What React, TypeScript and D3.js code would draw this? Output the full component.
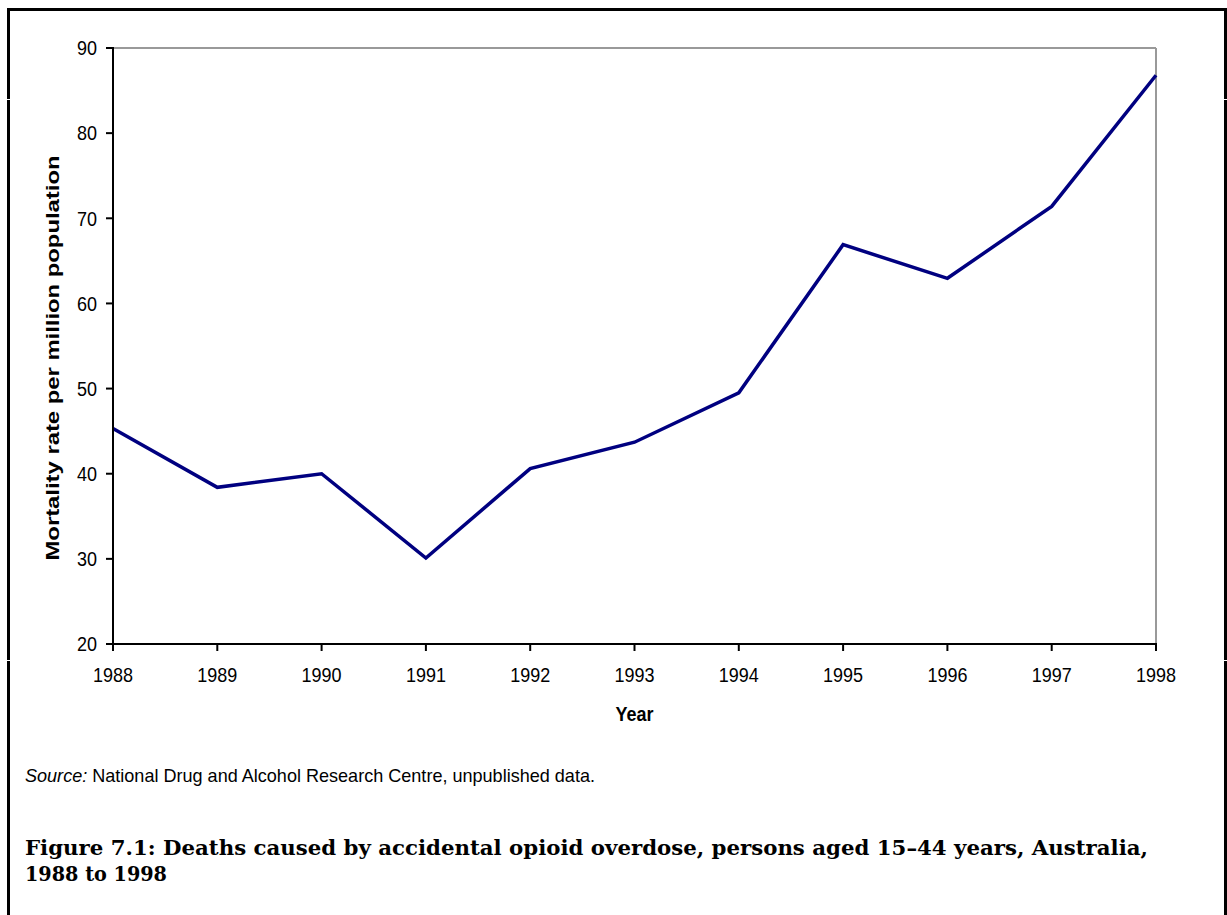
import React from "react";
import * as d3 from "d3";

const years = [1988, 1989, 1990, 1991, 1992, 1993, 1994, 1995, 1996, 1997, 1998];
const rates = [45.3, 38.4, 40.0, 30.1, 40.6, 43.7, 49.5, 66.9, 62.95, 71.4, 86.8];
const yTicks = [20, 30, 40, 50, 60, 70, 80, 90];
const yTitle = "Mortality rate per million population";
const xTitle = "Year";
const sourceItalic = "Source:";
const sourceText = " National Drug and Alcohol Research Centre, unpublished data.";
const titleLine1 = "Figure 7.1: Deaths caused by accidental opioid overdose, persons aged 15\u201344 years, Australia,";
const titleLine2 = "1988 to 1998";

const W = 1227;
const H = 915;
const L = 113, R = 1156, T = 48, B = 644;
const SY = 1.15;

export default function App() {
  const x = d3.scaleLinear().domain([1988, 1998]).range([L, R]);
  const y = d3.scaleLinear().domain([20, 90]).range([B, T]);
  const line = d3
    .line<number>()
    .x((_, i) => x(years[i]))
    .y((d) => y(d));
  const sans = "'Liberation Sans', Arial, sans-serif";
  const serif = "'DejaVu Serif', serif";
  return (
    <svg
      width={W}
      height={H}
      style={{ position: "absolute", left: 0, top: 0, background: "#fff" }}
    >
      <rect x={0} y={0} width={W} height={H} fill="#fff" />
      {/* outer frame */}
      <line x1={8.5} y1={8} x2={8.5} y2={H} stroke="#000" strokeWidth={3} />
      <line x1={7} y1={9.5} x2={1227} y2={9.5} stroke="#000" strokeWidth={3} />
      <line x1={1225.5} y1={8} x2={1225.5} y2={H} stroke="#000" strokeWidth={3} />
      <rect x={6} y={99} width={5} height={1} fill="#fff" />
      <rect x={6} y={660} width={5} height={1} fill="#fff" />
      <rect x={1223} y={99} width={5} height={1} fill="#fff" />
      <rect x={1223} y={660} width={5} height={1} fill="#fff" />

      {/* plot frame: top/right gray */}
      <line x1={L} y1={T} x2={R} y2={T} stroke="#999" strokeWidth={2} />
      <line x1={R} y1={T} x2={R} y2={B} stroke="#999" strokeWidth={2} />

      {/* line */}
      <path
        d={line(rates) || ""}
        fill="none"
        stroke="#000080"
        strokeWidth={3.5}
        strokeLinejoin="miter"
      />

      {/* axes */}
      <line x1={L} y1={T - 1} x2={L} y2={B + 1} stroke="#000" strokeWidth={2} />
      <line x1={L - 1} y1={B} x2={R + 1} y2={B} stroke="#000" strokeWidth={2} />
      {yTicks.map((t) => (
        <g key={"y" + t}>
          <line x1={L - 7} x2={L} y1={y(t)} y2={y(t)} stroke="#000" strokeWidth={2} />
          <text
            transform={`translate(${L - 16}, ${y(t)}) scale(1, ${SY})`}
            dy="0.35em"
            textAnchor="end"
            fontFamily={sans}
            fontSize={18}
            fill="#000"
          >
            {t}
          </text>
        </g>
      ))}
      {years.map((yr) => (
        <g key={"x" + yr}>
          <line x1={x(yr)} x2={x(yr)} y1={B} y2={B + 7} stroke="#000" strokeWidth={2} />
          <text
            transform={`translate(${x(yr)}, 682) scale(1, ${SY})`}
            textAnchor="middle"
            fontFamily={sans}
            fontSize={18}
            fill="#000"
          >
            {yr}
          </text>
        </g>
      ))}
      <text
        transform={`translate(${(L + R) / 2}, 721) scale(1, ${SY})`}
        textAnchor="middle"
        fontFamily={sans}
        fontWeight="bold"
        fontSize={18}
        fill="#000"
      >
        {xTitle}
      </text>
      <text
        transform={`translate(59, 358) rotate(-90)`}
        textAnchor="middle"
        fontFamily={sans}
        fontWeight="bold"
        fontSize={18}
        textLength={405}
        lengthAdjust="spacingAndGlyphs"
        fill="#000"
      >
        {yTitle}
      </text>

      {/* source */}
      <text
        transform={`translate(25, 782) scale(1, ${SY})`}
        fontFamily={sans}
        fontSize={16}
        textLength={570}
        lengthAdjust="spacingAndGlyphs"
        fill="#000"
      >
        <tspan fontStyle="italic">{sourceItalic}</tspan>
        <tspan>{sourceText}</tspan>
      </text>

      {/* title */}
      <text
        x={25}
        y={855}
        fontFamily={serif}
        fontWeight="bold"
        fontSize={21}
        textLength={1123}
        lengthAdjust="spacingAndGlyphs"
        fill="#000"
      >
        {titleLine1}
      </text>
      <text
        x={25}
        y={881}
        fontFamily={serif}
        fontWeight="bold"
        fontSize={21}
        textLength={142}
        lengthAdjust="spacingAndGlyphs"
        fill="#000"
      >
        {titleLine2}
      </text>
    </svg>
  );
}
